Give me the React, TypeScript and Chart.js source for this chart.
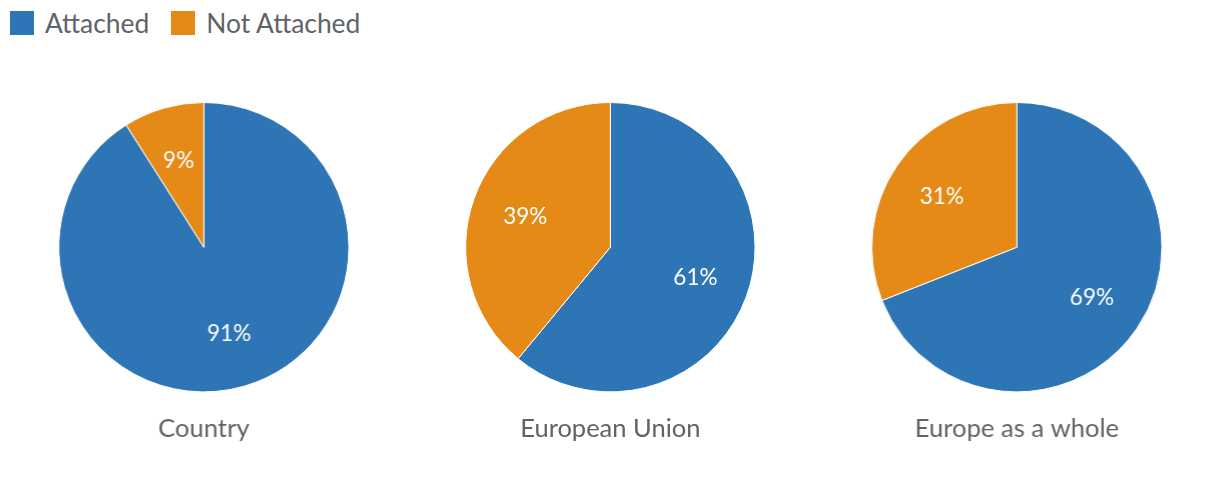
import React, { useEffect, useRef } from "react";
import { Chart, registerables } from "chart.js";

Chart.register(...registerables);

const seriesLabels = ["Attached", "Not Attached"];
const colors = ["#2E75B6", "#E58A17"];
const categories = ["Country", "European Union", "Europe as a whole"];
const attached = [91, 61, 69];
const notAttached = [9, 39, 31];

const FONT = "Lato, 'Open Sans', sans-serif";
const TEXT_GRAY = "#5F6368";

const labelPlugin = {
  id: "sliceLabels",
  afterDatasetsDraw(chart: any) {
    const ctx = chart.ctx;
    const meta = chart.getDatasetMeta(0);
    const data = chart.data.datasets[0].data;
    ctx.save();
    ctx.fillStyle = "#FFFFFF";
    ctx.font = `22.5px ${FONT}`;
    ctx.textAlign = "center";
    ctx.textBaseline = "middle";
    meta.data.forEach((arc: any, i: number) => {
      const { x, y, startAngle, endAngle, outerRadius } = arc.getProps(
        ["x", "y", "startAngle", "endAngle", "outerRadius"],
        true
      );
      const mid = (startAngle + endAngle) / 2;
      const r = outerRadius * 0.625;
      ctx.fillText(`${data[i]}%`, x + Math.cos(mid) * r, y + Math.sin(mid) * r);
    });
    ctx.restore();
  },
};

function PieChart({ idx }: { idx: number }) {
  const ref = useRef<HTMLCanvasElement | null>(null);
  useEffect(() => {
    if (!ref.current) return;
    const chart = new Chart(ref.current, {
      type: "pie",
      data: {
        labels: seriesLabels,
        datasets: [
          {
            data: [attached[idx], notAttached[idx]],
            backgroundColor: colors,
            borderColor: "#FFFFFF",
            borderWidth: 1,
          },
        ],
      },
      options: {
        animation: false,
        responsive: true,
        maintainAspectRatio: false,
        layout: { padding: 0 },
        plugins: {
          legend: { display: false },
          tooltip: { enabled: false },
          title: {
            display: true,
            position: "bottom",
            text: categories[idx],
            color: TEXT_GRAY,
            font: { family: FONT, size: 25.5, weight: "normal" as any, lineHeight: 1.2 },
            padding: { top: 21, bottom: 34 },
          },
        },
      },
      plugins: [labelPlugin],
    });
    return () => chart.destroy();
  }, [idx]);
  return (
    <div style={{ position: "relative", width: "100%", height: "100%" }}>
      <canvas ref={ref} />
    </div>
  );
}

export default function App() {
  return (
    <div
      style={{
        position: "absolute",
        left: 0,
        top: 0,
        width: 1220,
        height: 478,
        background: "#FFFFFF",
        overflow: "hidden",
        fontFamily: FONT,
      }}
    >
      <div
        style={{
          position: "absolute",
          left: 10,
          top: 11,
          height: 24,
          display: "flex",
          alignItems: "center",
        }}
      >
        {seriesLabels.map((l, i) => (
          <div key={l} style={{ display: "flex", alignItems: "center", marginRight: 22 }}>
            <div style={{ width: 24, height: 24, background: colors[i], marginRight: 11 }} />
            <span style={{ fontSize: 26.4, color: TEXT_GRAY, lineHeight: "24px" }}>{l}</span>
          </div>
        ))}
      </div>
      <div
        style={{
          position: "absolute",
          left: 0,
          top: 102,
          width: 1220,
          height: 376,
          display: "flex",
        }}
      >
        {categories.map((c, i) => (
          <div key={c} style={{ width: 1220 / 3, height: "100%" }}>
            <PieChart idx={i} />
          </div>
        ))}
      </div>
    </div>
  );
}
